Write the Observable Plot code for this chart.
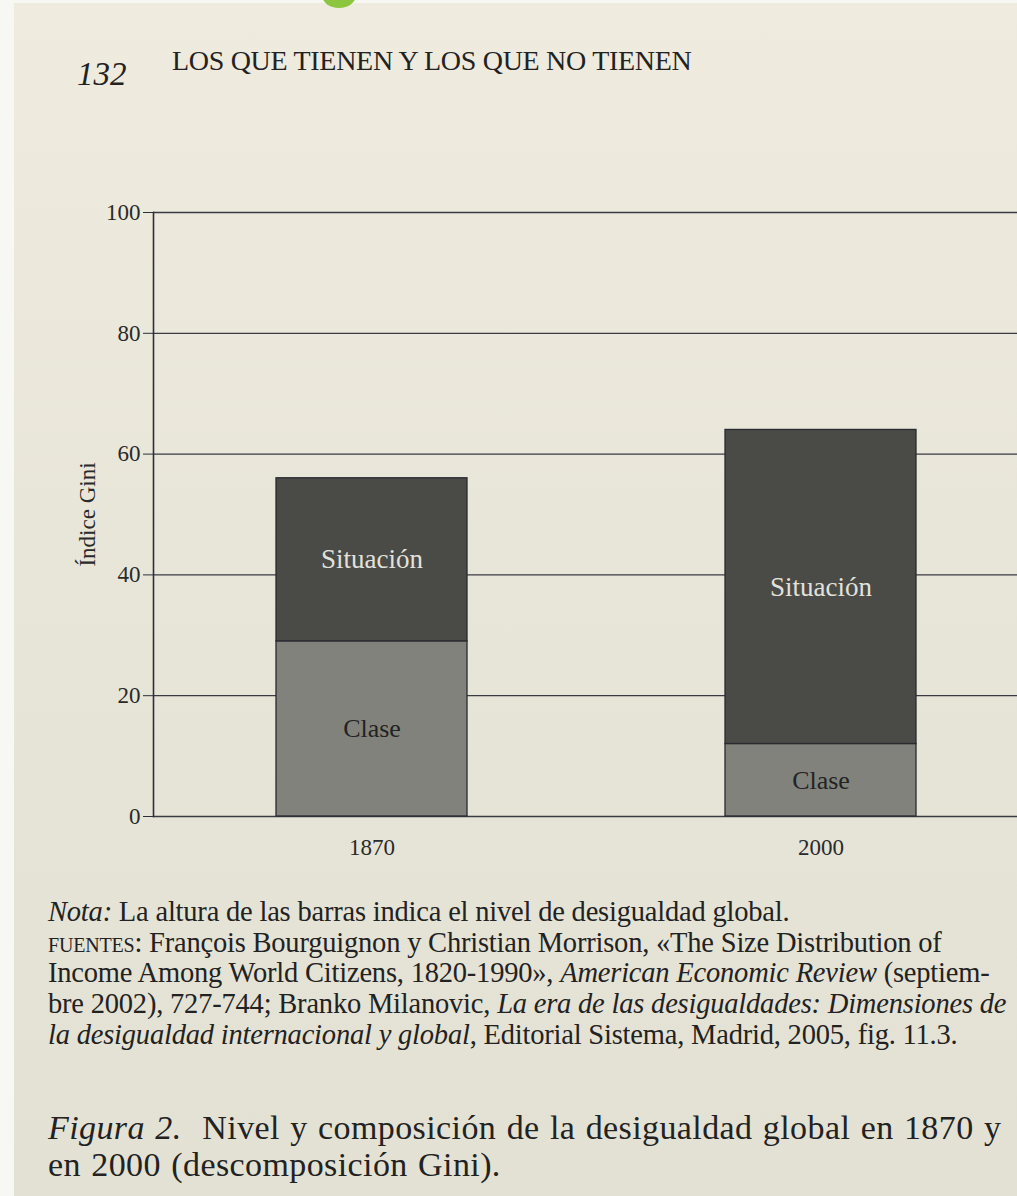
<!DOCTYPE html>
<html>
<head>
<meta charset="utf-8">
<script src="https://cdn.jsdelivr.net/npm/d3@7"></script>
<script src="https://cdn.jsdelivr.net/npm/@observablehq/plot@0.6"></script>
<style>
  html, body { margin: 0; padding: 0; }
  body {
    width: 1017px; height: 1196px; overflow: hidden; position: relative;
    background: linear-gradient(180deg, #efebdf 0%, #e8e6d9 45%, #e3e1d4 100%);
    font-family: "Liberation Serif", "DejaVu Serif", serif; color: #222;
  }
  .abs { position: absolute; white-space: nowrap; }
  .sc { font-variant: small-caps; text-transform: lowercase; }
</style>
</head>
<body>
<div class="abs" style="left:0;top:0;width:14px;height:1196px;background:#f7f7f4"></div>
<div class="abs" style="left:0;top:0;width:1017px;height:3px;background:#f7f7f4"></div>
<div class="abs" style="left:322px;top:-18px;width:34px;height:26px;border-radius:50%;background:#8cc63f"></div>

<div class="abs" style="left:77px;top:56px;font-size:33px;font-style:italic">132</div>
<div class="abs" style="left:172px;top:45px;font-size:28px;letter-spacing:-0.3px">LOS QUE TIENEN Y LOS QUE NO TIENEN</div>

<div id="chart" class="abs" style="left:0;top:180px"></div>

<div class="abs" style="left:48px;top:897px;font-size:28.5px;line-height:30.7px;letter-spacing:-0.2px">
<div><i>Nota:</i> La altura de las barras indica el nivel de desigualdad global.</div>
<div><span class="sc">FUENTES</span>: François Bourguignon y Christian Morrison, «The Size Distribution of</div>
<div>Income Among World Citizens, 1820-1990», <i>American Economic Review</i> (septiem-</div>
<div>bre 2002), 727-744; Branko Milanovic, <i>La era de las desigualdades: Dimensiones de</i></div>
<div><i>la desigualdad internacional y global</i>, Editorial Sistema, Madrid, 2005, fig. 11.3.</div>
</div>

<div class="abs" style="left:48px;top:1109px;font-size:34px;line-height:37px;letter-spacing:0.4px;word-spacing:1.5px">
<div><i>Figura 2.</i>&nbsp; Nivel y composición de la desigualdad global en 1870 y</div>
<div>en 2000 (descomposición Gini).</div>
</div>

<script>
const years = ["1870", "2000"];
const clase = [29, 12];
const situacion = [27, 52];
const components = ["Clase", "Situación"];
const yTicks = [0, 20, 40, 60, 80, 100];

const rows = [];
years.forEach((yr, i) => {
  rows.push({year: yr, component: "Clase", y1: 0, y2: clase[i]});
  rows.push({year: yr, component: "Situación", y1: clase[i], y2: clase[i] + situacion[i]});
});
const claseLabels = rows.filter(d => d.component === "Clase").map(d => ({...d, mid: (d.y1 + d.y2) / 2}));
const sitLabels = rows.filter(d => d.component === "Situación").map(d => ({...d, mid: (d.y1 + d.y2) / 2}));

const chart = Plot.plot({
  width: 1017,
  height: 696,
  marginTop: 32,
  marginBottom: 60,
  marginLeft: 153,
  marginRight: 0,
  style: {background: "transparent", fontFamily: "Liberation Serif, DejaVu Serif, serif", fontSize: "23px", color: "#2a2a2a"},
  x: {domain: years, paddingInner: 0.574, paddingOuter: 0.248, align: 0.55, label: null},
  y: {domain: [0, 100], label: "Índice Gini"},
  color: {domain: components, range: ["#82827d", "#4a4a46"]},
  marks: [
    Plot.ruleY(yTicks, {stroke: "#3a3a44", strokeWidth: 1.3}),
    Plot.frame({anchor: "left", stroke: "#2e2e3a", strokeWidth: 1.6}),
    Plot.barY(rows, {x: "year", y1: "y1", y2: "y2", fill: "component", stroke: "#2a2a32", strokeWidth: 1.3}),
    Plot.text(sitLabels, {x: "year", y: "mid", text: "component", fill: "#e2e2dc", fontSize: 27}),
    Plot.text(claseLabels, {x: "year", y: "mid", text: "component", fill: "#232323", fontSize: 26}),
    Plot.axisY({ticks: yTicks, tickSize: 10, tickPadding: 3, stroke: "#2e2e3a", fontSize: 23,
      label: "Índice Gini", labelAnchor: "center", labelArrow: "none", labelOffset: 75}),
    Plot.axisX({tickSize: 0, tickPadding: 22, fontSize: 23, label: null})
  ]
});
document.getElementById("chart").appendChild(chart);
</script>
</body>
</html>
